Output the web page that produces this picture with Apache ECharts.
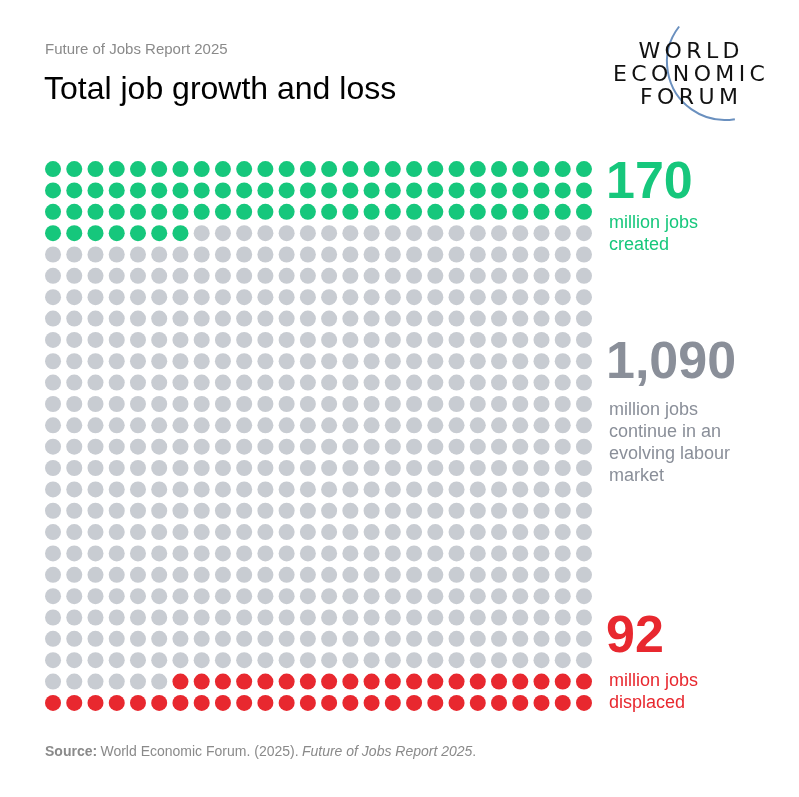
<!DOCTYPE html>
<html><head><meta charset="utf-8">
<script src="https://cdn.jsdelivr.net/npm/echarts@6/dist/echarts.min.js"></script>
<style>html,body{margin:0;background:#fff}#c{width:799px;height:797px}</style>
</head><body><div id="c"></div>
<script>
const groups = ['created', 'continue', 'displaced'];
const dotCounts = [85, 545, 46]; // dots per group, 26 x 26 grid
const groupColors = ['#16c77c', '#c8ccd2', '#e8282f'];
const cols = 26;

const chart = echarts.init(document.getElementById('c'));

const series = [];
let idx = 0;
dotCounts.forEach((n, g) => {
  const pts = [];
  for (let i = 0; i < n; i++, idx++) {
    pts.push([idx % cols, Math.floor(idx / cols)]);
  }
  series.push({
    name: groups[g],
    type: 'scatter',
    symbolSize: 16,
    itemStyle: { color: groupColors[g], opacity: 1 },
    silent: true,
    data: pts,
  });
});

const font = 'Helvetica, "Liberation Sans", Arial, sans-serif';
const logoFont = '22px "DejaVu Sans", sans-serif';
const spaced = s => s.split('').join('\u2009');

chart.setOption({
  animation: false,
  grid: { left: 42.4, right: 204.4, top: 158.4, bottom: 83.4 },
  xAxis: { type: 'value', min: -0.5, max: 25.5, show: false },
  yAxis: { type: 'value', min: -0.5, max: 25.5, inverse: true, show: false },
  series,
  graphic: [
    { type: 'text', left: 45, top: 42, style: { text: 'Future of Jobs Report 2025', font: '15px ' + font, fill: '#8a8a8a' } },
    { type: 'text', left: 44, top: 74, style: { text: 'Total job growth and loss', font: '32px ' + font, fill: '#000' } },
    { type: 'text', x: 689, y: 52, style: { text: spaced('WORLD'), font: logoFont, fill: '#111', align: 'center', verticalAlign: 'middle' } },
    { type: 'text', x: 689, y: 75, style: { text: spaced('ECONOMIC'), font: logoFont, fill: '#111', align: 'center', verticalAlign: 'middle' } },
    { type: 'text', x: 689, y: 98, style: { text: spaced('FORUM'), font: logoFont, fill: '#111', align: 'center', verticalAlign: 'middle' } },
    { type: 'arc', shape: { cx: 725, cy: 62, r: 58, startAngle: 1.4, endAngle: 3.8, clockwise: true },
      style: { stroke: '#6a90bf', lineWidth: 2, fill: null }, z: -1 },
    { type: 'text', left: 606, top: 158, style: { text: '170', font: 'bold 52px ' + font, fill: '#16c77c' } },
    { type: 'text', left: 609, top: 212, style: { text: 'million jobs\ncreated', font: '18px ' + font, fill: '#16c77c', lineHeight: 22 } },
    { type: 'text', left: 606, top: 338, style: { text: '1,090', font: 'bold 52px ' + font, fill: '#8a8f99' } },
    { type: 'text', left: 609, top: 399, style: { text: 'million jobs\ncontinue in an\nevolving labour\nmarket', font: '18px ' + font, fill: '#8a8f99', lineHeight: 22 } },
    { type: 'text', left: 606, top: 612, style: { text: '92', font: 'bold 52px ' + font, fill: '#e8282f' } },
    { type: 'text', left: 609, top: 670, style: { text: 'million jobs\ndisplaced', font: '18px ' + font, fill: '#e8282f', lineHeight: 22 } },
    { type: 'text', left: 45, top: 745, style: {
      rich: { b: { font: 'bold 14px ' + font, fill: '#8a8a8a' }, n: { font: '14px ' + font, fill: '#8a8a8a' }, i: { font: 'italic 14px ' + font, fill: '#8a8a8a' } },
      text: '{b|Source:} {n|World Economic Forum. (2025).} {i|Future of Jobs Report 2025}{n|.}' } },
  ],
});
</script></body></html>
